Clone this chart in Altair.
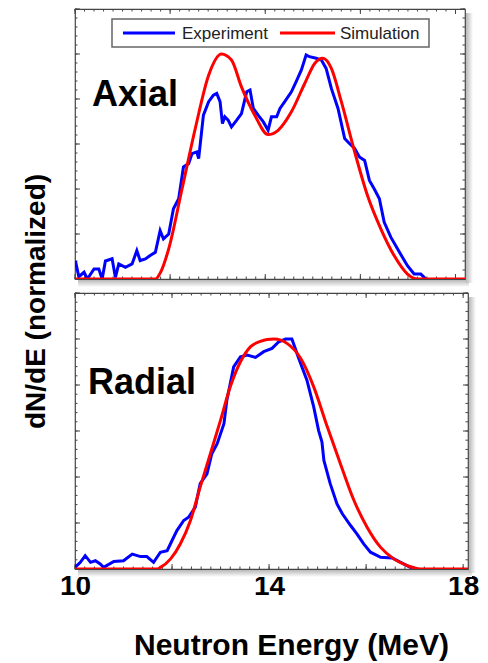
import altair as alt
import pandas as pd

# ---------------- data ----------------
axial_exp_E = [10.01, 10.08, 10.19, 10.26, 10.40, 10.50, 10.57, 10.64, 10.78, 10.85, 10.92,
               11.06, 11.20, 11.30, 11.37, 11.48, 11.58, 11.69, 11.79, 11.86, 11.97, 12.07,
               12.18, 12.28, 12.39, 12.46, 12.56, 12.60, 12.70, 12.81, 12.91, 12.98, 13.05,
               13.10, 13.15, 13.22, 13.29, 13.40, 13.50, 13.61, 13.68, 13.75, 13.85, 13.96,
               14.06, 14.13, 14.24, 14.31, 14.41, 14.55, 14.65, 14.76, 14.86, 14.93, 15.07,
               15.18, 15.28, 15.39, 15.53, 15.67, 15.77, 15.88, 15.98, 16.09, 16.19, 16.29,
               16.40, 16.50, 16.64, 16.78, 16.99, 17.13, 17.27, 17.38]
axial_exp_v = [0.080, 0.010, 0.030, 0.000, 0.045, 0.045, 0.000, 0.080, 0.090, 0.007, 0.067,
               0.052, 0.067, 0.126, 0.082, 0.089, 0.104, 0.119, 0.215, 0.178, 0.200, 0.312,
               0.357, 0.498, 0.513, 0.557, 0.565, 0.535, 0.728, 0.788, 0.817, 0.825, 0.788,
               0.691, 0.721, 0.706, 0.676, 0.706, 0.735, 0.832, 0.840, 0.758, 0.728, 0.698,
               0.661, 0.721, 0.721, 0.758, 0.788, 0.832, 0.877, 0.929, 0.996, 0.988, 0.981,
               0.973, 0.936, 0.847, 0.758, 0.624, 0.602, 0.580, 0.542, 0.527, 0.438, 0.401,
               0.357, 0.253, 0.186, 0.134, 0.059, 0.022, 0.022, 0.000]

axial_sim_E = [10.0, 11.0, 11.69, 11.80, 11.97, 12.25, 12.53, 12.81, 13.08, 13.29, 13.50,
               13.78, 14.06, 14.27, 14.55, 14.83, 15.04, 15.21, 15.39, 15.60, 15.88, 16.15,
               16.43, 16.71, 16.99, 17.20, 17.6, 18.2]
axial_sim_v = [0.0, 0.0, 0.0, 0.030, 0.134, 0.400, 0.670, 0.906, 1.000, 0.973, 0.854,
               0.728, 0.642, 0.661, 0.743, 0.869, 0.958, 0.981, 0.936, 0.788, 0.565, 0.371,
               0.223, 0.104, 0.022, 0.0, 0.0, 0.0]

radial_exp_E = [10.00, 10.11, 10.21, 10.32, 10.42, 10.52, 10.59, 10.80, 11.00, 11.18, 11.35,
                11.48, 11.62, 11.76, 11.90, 12.00, 12.10, 12.24, 12.34, 12.48, 12.58, 12.72,
                12.82, 12.93, 13.07, 13.13, 13.27, 13.41, 13.55, 13.72, 13.89, 14.06, 14.20,
                14.34, 14.47, 14.54, 14.61, 14.78, 14.92, 15.02, 15.09, 15.13, 15.26, 15.40,
                15.51, 15.68, 15.81, 15.95, 16.09, 16.30, 16.54, 16.71, 16.91, 17.05]
radial_exp_v = [0.007, 0.029, 0.058, 0.029, 0.036, 0.022, 0.007, 0.033, 0.036, 0.065, 0.054,
                0.054, 0.029, 0.073, 0.080, 0.124, 0.167, 0.211, 0.225, 0.269, 0.371, 0.414,
                0.501, 0.545, 0.632, 0.734, 0.879, 0.923, 0.930, 0.920, 0.945, 0.959, 0.988,
                1.000, 1.000, 0.959, 0.916, 0.821, 0.705, 0.603, 0.552, 0.472, 0.371, 0.283,
                0.240, 0.189, 0.153, 0.109, 0.073, 0.051, 0.048, 0.029, 0.007, 0.000]

radial_sim_E = [10.0, 11.0, 11.69, 11.76, 11.97, 12.17, 12.38, 12.58, 12.79, 13.00, 13.20,
                13.41, 13.62, 13.82, 13.96, 14.10, 14.24, 14.37, 14.65, 14.92, 15.20, 15.47,
                15.75, 16.02, 16.30, 16.57, 16.85, 17.12, 17.6, 18.1]
radial_sim_v = [0.0, 0.0, 0.0, 0.007, 0.044, 0.109, 0.211, 0.356, 0.501, 0.647, 0.792,
                0.901, 0.967, 0.990, 0.998, 1.000, 0.995, 0.981, 0.916, 0.792, 0.618, 0.458,
                0.298, 0.182, 0.094, 0.044, 0.015, 0.0, 0.0, 0.0]

series_names = ["Experiment", "Simulation"]
series_colors = ["#0000ff", "#ff0000"]
series_interp = ["linear", "monotone"]

x_major = [10, 12, 14, 16, 18]
x_minor = [round(10 + 0.2 * i, 2) for i in range(41)]
y_major = [0.0, 0.2, 0.4, 0.6, 0.8, 1.0, 1.2]
y_minor = [round(0.04 * i, 2) for i in range(31)]

FONT = "Liberation Sans"
FRAME = "#444444"


def panel(exp_E, exp_v, sim_E, sim_v, xdom, W, H, label, label_xy, xaxis, yaxis, legend):
    xs = alt.Scale(domain=xdom, nice=False, zero=False)
    ys = alt.Scale(domain=[0, 1.2], nice=False)

    def X(f):
        return alt.X(f, type="quantitative", scale=xs, axis=xaxis)

    def Y(f):
        return alt.Y(f, type="quantitative", scale=ys, axis=yaxis)

    one = pd.DataFrame({"k": [0]})
    layers = []

    # drop shadow of the frame
    layers.append(alt.Chart(one).mark_rect(
        color=alt.LinearGradient(gradient="linear", x1=0, y1=0, x2=0, y2=1,
                                 stops=[alt.GradientStop(color="#b8b8b8", offset=0),
                                        alt.GradientStop(color="#ffffff", offset=1)])
    ).encode(x=alt.value(3), x2=alt.value(W + 4), y=alt.value(H + 1), y2=alt.value(H + 8)))
    layers.append(alt.Chart(one).mark_rect(
        color=alt.LinearGradient(gradient="linear", x1=0, y1=0, x2=1, y2=0,
                                 stops=[alt.GradientStop(color="#b8b8b8", offset=0),
                                        alt.GradientStop(color="#ffffff", offset=1)])
    ).encode(x=alt.value(W + 1), x2=alt.value(W + 8), y=alt.value(4), y2=alt.value(H + 4)))

    # inward ticks
    for vals, ln in ((x_minor, 2.5), (x_major, 5)):
        d = pd.DataFrame({"t": vals})
        layers.append(alt.Chart(d).mark_rule(color=FRAME, strokeWidth=1).encode(
            x=X("t"), y=alt.value(H), y2=alt.value(H - ln)))
        layers.append(alt.Chart(d).mark_rule(color=FRAME, strokeWidth=1).encode(
            x=X("t"), y=alt.value(0), y2=alt.value(ln)))
    for vals, ln in ((y_minor, 2.5), (y_major, 5)):
        d = pd.DataFrame({"t": vals})
        layers.append(alt.Chart(d).mark_rule(color=FRAME, strokeWidth=1).encode(
            y=Y("t"), x=alt.value(0), x2=alt.value(ln)))
        layers.append(alt.Chart(d).mark_rule(color=FRAME, strokeWidth=1).encode(
            y=Y("t"), x=alt.value(W), x2=alt.value(W - ln)))

    # data lines
    for E, v, name, col, interp in ((exp_E, exp_v, series_names[0], series_colors[0], series_interp[0]),
                                    (sim_E, sim_v, series_names[1], series_colors[1], series_interp[1])):
        d = pd.DataFrame({"E": E, "v": v, "series": name})
        layers.append(alt.Chart(d).mark_line(color=col, strokeWidth=3, clip=True,
                                             interpolate=interp).encode(
            x=X("E"), y=Y("v")))

    # panel label
    layers.append(alt.Chart(one).mark_text(
        text=label, font=FONT, fontSize=36, fontWeight="bold", color="black",
        align="left", baseline="alphabetic").encode(
        x=alt.value(label_xy[0]), y=alt.value(label_xy[1])))

    if legend:
        bx0, bx1, by0, by1 = 37, 354, 10, 38
        ym = (by0 + by1) / 2
        layers.append(alt.Chart(one).mark_rect(fill="white", stroke="#666666", strokeWidth=1.5).encode(
            x=alt.value(bx0), x2=alt.value(bx1), y=alt.value(by0), y2=alt.value(by1)))
        for (lx0, lx1, tx), name, col in zip(((48, 100, 107), (205, 260, 265)),
                                             series_names, series_colors):
            layers.append(alt.Chart(one).mark_rule(color=col, strokeWidth=3).encode(
                x=alt.value(lx0), x2=alt.value(lx1), y=alt.value(ym)))
            layers.append(alt.Chart(one).mark_text(
                text=name, font=FONT, fontSize=17, color="#222222",
                align="left", baseline="middle").encode(
                x=alt.value(tx), y=alt.value(ym + 1)))

    return alt.layer(*layers).properties(width=W, height=H)


no_x_axis = alt.Axis(labels=False, ticks=False, domain=False, grid=False, title=None)
no_y_axis = alt.Axis(labels=False, ticks=False, domain=False, grid=False, title=None)

top_y_axis = alt.Axis(labels=False, ticks=False, domain=False, grid=False,
                      title="dN/dE (normalized)", titleAngle=270, titleX=-39, titleY=292,
                      titleAlign="center", titleBaseline="middle", titleFont=FONT,
                      titleFontSize=28, titleFontWeight="bold", titleColor="black")

bottom_x_axis = alt.Axis(values=[10, 14, 18], labelFont=FONT, labelFontSize=28,
                         labelFontWeight="bold", labelColor="black", labelPadding=3,
                         labelFlush=False, ticks=False, domain=False, grid=False,
                         title="Neutron Energy (MeV)", titleFont=FONT, titleFontSize=30,
                         titleFontWeight="bold", titleColor="black", titleX=216, titleY=85,
                         titleAlign="center", titleBaseline="alphabetic")

top = panel(axial_exp_E, axial_exp_v, axial_sim_E, axial_sim_v, [10, 18.2], 390, 270,
            "Axial", (17, 97), no_x_axis, top_y_axis, True)
bottom = panel(radial_exp_E, radial_exp_v, radial_sim_E, radial_sim_v, [10, 18.1], 393, 276,
               "Radial", (13, 101), bottom_x_axis, no_y_axis, False)

chart = alt.vconcat(top, bottom, spacing=14, bounds="flush").properties(
    padding={"left": 21, "top": 7, "right": 5, "bottom": 5},
    background="white",
).configure_view(stroke=FRAME, strokeWidth=1.2)

chart.save("out.html", embed_options={"renderer": "svg", "actions": False})
